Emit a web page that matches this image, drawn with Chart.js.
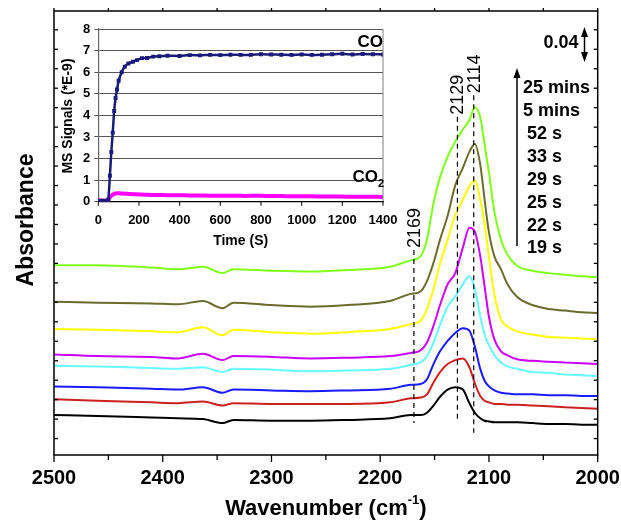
<!DOCTYPE html>
<html lang="en">
<head>
<meta charset="UTF-8">
<title>CO adsorption IR spectra</title>
<style>
  html, body { margin: 0; padding: 0; background: #fff; }
  #wrap { position: relative; width: 621px; height: 521px; }
  #main { position: absolute; left: 0; top: 0; }
  #inset { position: absolute; left: 58px; top: 14px; }
</style>
</head>
<body>
<div id="wrap">
  <canvas id="main" width="621" height="521"></canvas>
  <canvas id="inset" width="348" height="240"></canvas>
</div>
<script src="https://cdn.jsdelivr.net/npm/chart.js"></script>
<script>
const FONT = "'Liberation Sans', Arial, Helvetica, sans-serif";

// ---- main IR spectra (absorbance, stacked as in the figure) ----
const wavenumbers = [2500, 2460, 2410, 2386, 2363, 2345, 2335, 2300, 2264, 2230, 2191, 2172, 2163, 2157, 2151,
  2145, 2138, 2131, 2124, 2118, 2113, 2108, 2104, 2100, 2095, 2089, 2083, 2074, 2060, 2045, 2030, 2015, 2000];

const abs19s = [0.050,0.049,0.047,0.046,0.045,0.040,0.044,0.043,0.043,0.044,0.046,0.050,0.050,0.053,0.062,
  0.073,0.082,0.085,0.082,0.065,0.053,0.046,0.043,0.042,0.041,0.041,0.041,0.041,0.040,0.039,0.039,0.038,0.038];
const abs22s = [0.070,0.068,0.066,0.065,0.067,0.062,0.065,0.064,0.064,0.064,0.066,0.071,0.072,0.076,0.091,
  0.104,0.114,0.119,0.121,0.110,0.090,0.074,0.068,0.066,0.064,0.064,0.063,0.063,0.062,0.061,0.060,0.059,0.058];
const abs25s = [0.086,0.085,0.083,0.082,0.085,0.078,0.082,0.081,0.080,0.081,0.083,0.088,0.089,0.095,0.114,
  0.130,0.143,0.153,0.159,0.156,0.136,0.108,0.093,0.086,0.081,0.078,0.077,0.076,0.076,0.075,0.075,0.074,0.074];
const abs29s = [0.112,0.111,0.109,0.108,0.110,0.104,0.108,0.107,0.105,0.106,0.108,0.113,0.116,0.124,0.141,
  0.163,0.186,0.199,0.214,0.224,0.208,0.174,0.151,0.138,0.125,0.116,0.111,0.108,0.104,0.103,0.101,0.100,0.099];
const abs33s = [0.126,0.124,0.123,0.121,0.127,0.119,0.124,0.123,0.121,0.122,0.124,0.128,0.131,0.141,0.162,
  0.188,0.214,0.228,0.260,0.285,0.280,0.249,0.211,0.173,0.145,0.130,0.125,0.120,0.118,0.117,0.116,0.115,0.114];
const abs52s = [0.158,0.157,0.155,0.154,0.160,0.150,0.157,0.154,0.152,0.154,0.158,0.164,0.168,0.183,0.208,
  0.240,0.270,0.301,0.320,0.337,0.344,0.320,0.289,0.248,0.201,0.170,0.161,0.155,0.151,0.148,0.147,0.146,0.145];
const abs5min = [0.192,0.191,0.190,0.189,0.193,0.184,0.191,0.188,0.186,0.188,0.193,0.202,0.205,0.218,0.241,
  0.270,0.300,0.338,0.360,0.380,0.390,0.364,0.320,0.279,0.249,0.233,0.214,0.198,0.188,0.183,0.181,0.179,0.178];
const abs25min = [0.238,0.238,0.235,0.233,0.236,0.228,0.233,0.231,0.230,0.232,0.236,0.244,0.249,0.270,0.316,
  0.348,0.374,0.393,0.408,0.420,0.436,0.423,0.389,0.354,0.305,0.270,0.251,0.237,0.231,0.228,0.226,0.224,0.223];

const timeLabels = ['19 s', '22 s', '25 s', '29 s', '33 s', '52 s', '5 mins', '25 mins'];
const spectra = [abs19s, abs22s, abs25s, abs29s, abs33s, abs52s, abs5min, abs25min];
const lineColors = ['#000000', '#cc1f1f', '#1a1aff', '#66ffff', '#cc00ff', '#ffff00', '#6b6b2e', '#80ff1a'];
const wnTickLabels = [2500, 2400, 2300, 2200, 2100, 2000];

// marked bands: wavenumber, top and bottom of the dashed line (absorbance)
const bandPositions = [2169, 2129, 2114];
const bandTops = [0.257, 0.424, 0.451];
const bandBottoms = [0.040, 0.041, 0.028];

// ---- inset: MS signals ----
const msTime = [0, 20, 40, 49, 57, 64, 71, 78, 85, 92, 100, 115, 130, 148, 170, 190, 215, 240, 270, 300, 340,
  400, 450, 500, 550, 600, 650, 700, 750, 800, 850, 900, 950, 1000, 1050, 1100, 1150, 1200, 1250, 1300, 1350, 1400];
const msCO = [0.05, 0.05, 0.05, 0.1, 1.2, 2.3, 3.2, 4.2, 4.8, 5.2, 5.6, 6.0, 6.25, 6.4, 6.48, 6.56, 6.65, 6.66,
  6.72, 6.74, 6.76, 6.75, 6.79, 6.78, 6.80, 6.79, 6.81, 6.80, 6.80, 6.83, 6.82, 6.81, 6.80, 6.82, 6.80, 6.81,
  6.83, 6.85, 6.82, 6.84, 6.83, 6.82];
const msCO2 = [0.05, 0.05, 0.05, 0.08, 0.2, 0.28, 0.33, 0.36, 0.38, 0.39, 0.39, 0.38, 0.37, 0.36, 0.35, 0.34,
  0.33, 0.32, 0.31, 0.31, 0.30, 0.30, 0.29, 0.29, 0.28, 0.28, 0.28, 0.27, 0.27, 0.27, 0.26, 0.26, 0.25, 0.25,
  0.25, 0.24, 0.24, 0.24, 0.23, 0.23, 0.23, 0.22];
const timeTickLabels = [0, 200, 400, 600, 800, 1000, 1200, 1400];

function drawArrowHead(ctx, x, y, dir) {
  // dir = -1 points up, 1 points down
  ctx.beginPath();
  ctx.moveTo(x, y);
  ctx.lineTo(x - 3.5, y - dir * 10);
  ctx.lineTo(x + 3.5, y - dir * 10);
  ctx.closePath();
  ctx.fill();
}

const mainDecor = {
  id: 'mainDecor',
  afterDraw(chart) {
    const { ctx, chartArea: a } = chart;
    const x = chart.scales.x, y = chart.scales.y;
    ctx.save();
    ctx.strokeStyle = '#000';
    ctx.fillStyle = '#000';

    // frame
    ctx.lineWidth = 1.5;
    ctx.strokeRect(a.left, a.top, a.right - a.left, a.bottom - a.top);

    // bottom ticks (outward), small top ticks, labels
    ctx.lineWidth = 1.3;
    for (let w = 2000; w <= 2500; w += 50) {
      const px = x.getPixelForValue(w);
      const len = w % 100 === 0 ? 7 : 5;
      ctx.beginPath(); ctx.moveTo(px, a.bottom); ctx.lineTo(px, a.bottom + len); ctx.stroke();
      ctx.beginPath(); ctx.moveTo(px, a.top); ctx.lineTo(px, a.top - 3); ctx.stroke();
    }
    ctx.font = 'bold 20px ' + FONT;
    ctx.textAlign = 'center';
    ctx.textBaseline = 'middle';
    wnTickLabels.forEach(w => ctx.fillText(String(w), x.getPixelForValue(w), a.bottom + 23));

    // left and right ticks (inward)
    for (let v = 0.0206; v < y.max; v += 0.0244) {
      const py = y.getPixelForValue(v);
      ctx.beginPath(); ctx.moveTo(a.left, py); ctx.lineTo(a.left + 4, py); ctx.stroke();
      ctx.beginPath(); ctx.moveTo(a.right, py); ctx.lineTo(a.right - 4, py); ctx.stroke();
    }

    // dashed band lines + labels
    ctx.lineWidth = 1.2;
    ctx.font = '18px ' + FONT;
    bandPositions.forEach((b, i) => {
      const px = x.getPixelForValue(b);
      const top = y.getPixelForValue(bandTops[i]);
      const bot = y.getPixelForValue(bandBottoms[i]);
      ctx.setLineDash([5, 4]);
      ctx.beginPath(); ctx.moveTo(px, top); ctx.lineTo(px, bot); ctx.stroke();
      ctx.setLineDash([]);
      ctx.save();
      ctx.translate(px + 1, top - 2);
      ctx.rotate(-Math.PI / 2);
      ctx.textAlign = 'left';
      ctx.textBaseline = 'middle';
      ctx.fillText(String(b), 0, 0);
      ctx.restore();
    });

    // time legend with arrow
    ctx.font = 'bold 18px ' + FONT;
    ctx.textAlign = 'left';
    ctx.textBaseline = 'middle';
    const rowY = [88, 111, 134, 157, 180, 203, 226, 248];
    const order = timeLabels.slice().reverse();
    order.forEach((t, i) => {
      const lx = t.indexOf('mins') > 0 ? 523 : 527;
      ctx.fillText(t, lx, rowY[i]);
    });
    ctx.lineWidth = 1.5;
    ctx.beginPath(); ctx.moveTo(517, 246); ctx.lineTo(517, 76); ctx.stroke();
    drawArrowHead(ctx, 517, 68, -1);

    // 0.04 scale bar
    ctx.textAlign = 'center';
    ctx.fillText('0.04', 561, 43);
    ctx.beginPath(); ctx.moveTo(584.5, 34); ctx.lineTo(584.5, 56); ctx.stroke();
    drawArrowHead(ctx, 584.5, 27, -1);
    drawArrowHead(ctx, 584.5, 62, 1);

    // axis titles
    const t1 = 'Wavenumber (cm', t3 = ')';
    ctx.font = 'bold 22px ' + FONT;
    const w1 = ctx.measureText(t1).width, w3 = ctx.measureText(t3).width;
    ctx.font = 'bold 13px ' + FONT;
    const w2 = ctx.measureText('-1').width;
    const cx = (a.left + a.right) / 2;
    const sx = cx - (w1 + w2 + w3) / 2;
    const ty = 509;
    ctx.textAlign = 'left';
    ctx.font = 'bold 22px ' + FONT;
    ctx.fillText(t1, sx, ty);
    ctx.font = 'bold 13px ' + FONT;
    ctx.fillText('-1', sx + w1, ty - 9);
    ctx.font = 'bold 22px ' + FONT;
    ctx.fillText(t3, sx + w1 + w2, ty);

    ctx.save();
    ctx.translate(27, 220);
    ctx.rotate(-Math.PI / 2);
    ctx.textAlign = 'center';
    ctx.font = 'bold 23px ' + FONT;
    ctx.fillText('Absorbance', 0, 0);
    ctx.restore();

    ctx.restore();
  }
};

new Chart(document.getElementById('main').getContext('2d'), {
  type: 'line',
  data: {
    datasets: spectra.map((s, i) => ({
      label: timeLabels[i],
      data: s.map((v, j) => ({ x: wavenumbers[j], y: v })),
      borderColor: lineColors[i],
      borderWidth: 2,
      pointRadius: 0,
      cubicInterpolationMode: 'monotone',
      fill: false
    }))
  },
  options: {
    responsive: false,
    animation: false,
    devicePixelRatio: 1,
    layout: { padding: { top: 11, right: 23.3, left: 0, bottom: 0 } },
    plugins: { legend: { display: false }, tooltip: { enabled: false } },
    scales: {
      x: {
        type: 'linear',
        reverse: true,
        min: 2000,
        max: 2500,
        offset: false,
        afterFit: s => { s.height = 66; s.paddingLeft = 0; s.paddingRight = 0; },
        border: { display: false },
        grid: { display: false, drawTicks: false },
        ticks: { display: false }
      },
      y: {
        min: 0,
        max: 0.5566,
        afterFit: s => { s.width = 54; },
        border: { display: false },
        grid: { display: false },
        ticks: { display: false }
      }
    }
  },
  plugins: [mainDecor]
});

const insetDecor = {
  id: 'insetDecor',
  afterDraw(chart) {
    const { ctx, chartArea: a } = chart;
    const x = chart.scales.x;
    ctx.save();
    ctx.fillStyle = '#000';
    ctx.strokeStyle = '#808080';
    ctx.lineWidth = 1;
    ctx.beginPath(); ctx.moveTo(a.right, a.top); ctx.lineTo(a.right, a.bottom); ctx.stroke();

    // time ticks and labels
    ctx.strokeStyle = '#000';
    ctx.font = 'bold 13px ' + FONT;
    ctx.textAlign = 'center';
    ctx.textBaseline = 'middle';
    timeTickLabels.forEach(t => {
      const px = x.getPixelForValue(t);
      ctx.beginPath(); ctx.moveTo(px, a.bottom); ctx.lineTo(px, a.bottom + 4); ctx.stroke();
      ctx.fillText(String(t), px, a.bottom + 19);
    });

    ctx.font = 'bold 17px ' + FONT;
    ctx.textAlign = 'right';
    ctx.fillText('CO', a.right, 28);
    ctx.fillText('CO', a.right - 5, 163);
    ctx.font = 'bold 11px ' + FONT;
    ctx.textAlign = 'left';
    ctx.fillText('2', a.right - 5, 170);

    ctx.font = 'bold 14px ' + FONT;
    ctx.textAlign = 'center';
    ctx.fillText('Time (S)', (a.left + a.right) / 2, 227);
    ctx.save();
    ctx.translate(10, 102);
    ctx.rotate(-Math.PI / 2);
    ctx.fillText('MS Signals (*E-9)', 0, 0);
    ctx.restore();
    ctx.restore();
  }
};

new Chart(document.getElementById('inset').getContext('2d'), {
  type: 'line',
  data: {
    datasets: [
      {
        label: 'CO',
        data: msTime.map((t, i) => ({ x: t, y: msCO[i] })),
        borderColor: '#1a1a78',
        backgroundColor: '#1a1a78',
        borderWidth: 2.5,
        pointRadius: 1,
        pointStyle: 'rect',
        tension: 0.2
      },
      {
        label: 'CO2',
        data: msTime.map((t, i) => ({ x: t, y: msCO2[i] })),
        borderColor: '#ff00ff',
        borderWidth: 4,
        pointRadius: 0,
        tension: 0.2
      }
    ]
  },
  options: {
    responsive: false,
    animation: false,
    devicePixelRatio: 1,
    layout: { padding: { top: 15, right: 23, left: 0, bottom: 0 } },
    plugins: { legend: { display: false }, tooltip: { enabled: false } },
    scales: {
      x: {
        type: 'linear',
        min: 0,
        max: 1400,
        afterFit: s => { s.height = 52.3; s.paddingLeft = 0; s.paddingRight = 0; },
        border: { color: '#000', width: 1.2 },
        grid: { display: false },
        ticks: { display: false }
      },
      y: {
        min: 0,
        max: 8,
        afterFit: s => { s.width = 40.3; },
        border: { color: '#666', width: 1.2 },
        grid: { color: '#555', lineWidth: 1, tickLength: 4 },
        ticks: {
          stepSize: 1,
          padding: 4,
          color: '#000',
          font: { family: FONT, size: 13, weight: 'bold' }
        }
      }
    }
  },
  plugins: [insetDecor]
});
</script>
</body>
</html>
